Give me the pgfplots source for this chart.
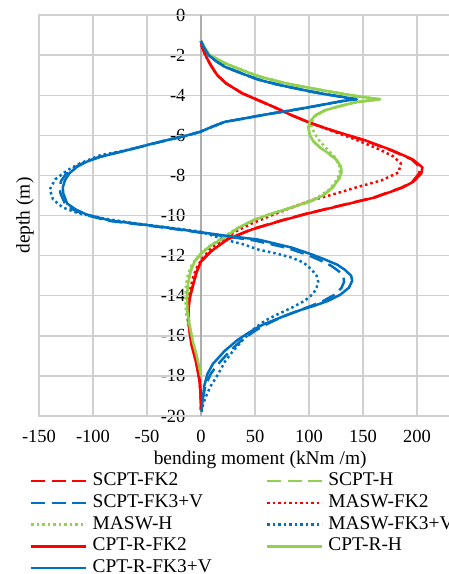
\documentclass[border=0pt]{standalone}
\usepackage{pgfplots}
\pgfplotsset{compat=1.18}
\usepackage{fontspec}
\setmainfont{Liberation Serif}
\definecolor{cred}{HTML}{FF0000}
\definecolor{cgreen}{HTML}{92D050}
\definecolor{cblue}{HTML}{0070C0}
\definecolor{gridc}{HTML}{D0D0D0}
\definecolor{zeroc}{HTML}{ADADAD}
\tikzset{
  dashedS/.style={dash pattern=on 14bp off 6.5bp},
  dottedS/.style={dash pattern=on 2.5bp off 3bp},
}
\begin{document}
\begin{tikzpicture}
% page frame: the chart is cut at the right edge
\useasboundingbox (0,0) rectangle (449bp,-574bp);
\begin{axis}[
  name=ax, at={(39bp,-15bp)}, anchor=north west,
  scale only axis, width=432bp, height=401bp,
  xmin=-150, xmax=250, ymin=-20, ymax=0,
  xtick={-150,-100,...,200}, ytick={-20,-18,...,0},
  xmajorgrids=true, ymajorgrids=true,
  major grid style={draw=gridc, line width=1.4bp},
  axis line style={draw=gridc, line width=1.4bp},
  tick style={draw=gridc}, major tick length=1bp,
  extra x ticks={0}, extra x tick labels={},
  extra x tick style={major grid style={draw=zeroc, line width=1.5bp}},
  /pgf/number format/assume math mode=true,
  tick label style={font=\fontsize{18.5bp}{20bp}\selectfont},
  xticklabel style={yshift=-11bp},
  yticklabel style={xshift=150bp},
  xlabel={bending moment (kNm /m)},
  xlabel style={at={(axis description cs:0.512,0)}, anchor=center, yshift=-44bp,
    font=\fontsize{19.4bp}{21bp}\selectfont},
  ylabel={depth (m)},
  ylabel style={at={(axis description cs:0,0.5)}, anchor=center, yshift=14bp,
    font=\fontsize{19.4bp}{21bp}\selectfont},
  every axis plot/.append style={line width=2.5bp, line join=round},
  legend columns=2, legend cell align=left,
  legend image code/.code={\draw[#1] (0bp,0bp) -- (55bp,0bp);},
  legend style={at={(axis description cs:-0.0208,-0.138)}, anchor=north west,
    draw=none, fill=none, inner sep=0pt,
    font=\fontsize{19.4bp}{21bp}\selectfont,
    column sep=4bp, /tikz/every even column/.append style={column sep=53bp},
    row sep=2.8bp, nodes={inner sep=1bp, text height=13bp, text depth=4bp}},
]
% grid lines
\pgfplotsinvokeforeach{-150,-100,-50,50,100,150,200}{
  \draw[gridc, line width=1.4bp] (axis cs:#1,-20) -- (axis cs:#1,0);}
\pgfplotsinvokeforeach{-20,-18,...,0}{
  \draw[gridc, line width=1.4bp] (axis cs:-150,#1) -- (axis cs:250,#1);}
\draw[zeroc, line width=1.5bp] (axis cs:0,-20) -- (axis cs:0,0);
% SCPT-FK2
\addplot[cred, dashedS] coordinates {
(0,-1.3) (1,-1.6) (4,-2.0) (9,-2.5) (15,-3.0) (23,-3.4) (38,-3.9) (53,-4.25)
(68,-4.6) (84,-5.0) (102,-5.4) (124,-5.8) (151,-6.25) (176,-6.75) (195,-7.2)
(203,-7.6) (202,-7.9) (196,-8.3) (186,-8.6) (160,-9.1) (129,-9.5) (98,-9.9)
(74,-10.25) (46,-10.7) (24,-11.2) (9,-11.8) (0,-12.3) (-4,-12.8) (-7,-13.4)
(-10,-14.0) (-11.5,-14.6) (-11.7,-15.2) (-10.5,-15.8) (-9,-16.4) (-6,-17.0)
(-3.5,-17.6) (-1.5,-18.2) (-0.5,-18.8) (0,-19.7)};
\addlegendentry{SCPT-FK2}
% SCPT-H
\addplot[cgreen, dashedS] coordinates {
(0,-1.3) (3,-1.6) (8,-2.0) (22,-2.4) (38,-2.75) (53,-3.05) (68,-3.27) (84,-3.47)
(100,-3.63) (115,-3.78) (130,-3.92) (145,-4.05) (158,-4.15) (165,-4.2)
(158,-4.26) (145,-4.33) (128,-4.55) (115,-4.75) (106,-5.0) (101,-5.3)
(99.5,-5.6) (100.5,-5.95) (104,-6.3) (110,-6.6) (118,-6.9) (125,-7.2)
(129.5,-7.55) (130,-7.85) (128,-8.15) (122,-8.6) (113,-9.0) (101,-9.3)
(84,-9.6) (66,-9.9) (50,-10.2) (35,-10.6) (22,-11.1) (9,-11.5) (0,-11.9)
(-6,-12.3) (-9.5,-12.75) (-12,-13.4) (-13,-14.1) (-12.5,-14.8) (-10.5,-15.5)
(-7.5,-16.3) (-4,-17.0) (-1.5,-17.6) (0,-18.0)};
\addlegendentry{SCPT-H}
% SCPT-FK3+V
\addplot[cblue, dashedS] coordinates {
(0,-1.3) (2.5,-1.6) (7,-2.0) (14,-2.3) (22,-2.58) (38,-2.92) (53,-3.22)
(68,-3.43) (84,-3.62) (100,-3.8) (115,-3.95) (130,-4.08) (144,-4.2) (130,-4.3)
(115,-4.45) (100,-4.6) (84,-4.75) (68,-4.89) (53,-5.03) (38,-5.18) (22,-5.33)
(10,-5.58) (-1,-5.83) (-16,-6.05) (-32,-6.25) (-48,-6.46) (-63,-6.67)
(-78,-6.87) (-94,-7.08) (-107,-7.32) (-117,-7.6) (-125,-7.93) (-129.5,-8.27)
(-131,-8.6) (-130,-8.92) (-126,-9.4) (-118,-9.72) (-107,-9.97) (-85,-10.27)
(-58,-10.44) (-32,-10.62) (-5,-10.82) (22,-11.03) (50,-11.25) (80,-11.62)
(99,-11.97) (111,-12.25) (121,-12.52) (128,-12.8) (132,-13.1) (132.5,-13.3)
(130,-13.62) (123,-13.97) (113,-14.27) (101,-14.53) (90,-14.75) (78,-15.0)
(67,-15.26) (58,-15.5) (50,-15.75) (38,-16.2) (27,-16.75) (16,-17.4)
(9,-17.9) (4,-18.5) (1.5,-19.2) (0,-19.7)};
\addlegendentry{SCPT-FK3+V}
% MASW-FK2
\addplot[cred, dottedS] coordinates {
(0,-1.3) (1,-1.6) (4,-2.0) (9,-2.5) (15,-3.0) (23,-3.4) (38,-3.9) (53,-4.25)
(68,-4.6) (84,-5.0) (102,-5.4) (122,-5.8) (145,-6.25) (165,-6.7) (178,-7.05)
(185,-7.4) (183,-7.85) (167,-8.25) (145,-8.58) (124,-8.92) (102,-9.25)
(84,-9.6) (65,-10.0) (47,-10.4) (32,-10.8) (20,-11.2) (9,-11.65) (2,-12.1)
(-3,-12.5) (-7,-13.0) (-10,-13.7) (-11.5,-14.4) (-11.5,-15.1) (-10,-15.8)
(-7.5,-16.5) (-4.5,-17.2) (-2,-17.9) (-0.5,-18.6) (0,-19.4)};
\addlegendentry{MASW-FK2}
% MASW-H
\addplot[cgreen, dottedS] coordinates {
(0,-1.3) (3,-1.6) (8,-2.0) (22,-2.4) (53,-3.05) (84,-3.47) (115,-3.78)
(145,-4.05) (165,-4.2) (145,-4.33) (115,-4.75) (104,-5.1) (102,-5.5)
(105,-5.9) (110,-6.3) (117,-6.7) (124,-7.1) (128,-7.5) (128.5,-7.85)
(126,-8.2) (119,-8.7) (108,-9.1) (94,-9.4) (78,-9.7) (60,-10.0) (44,-10.35)
(30,-10.75) (17,-11.2) (6,-11.6) (-2,-12.0) (-8,-12.4) (-12,-12.9)
(-14,-13.5) (-14.5,-14.1) (-14,-14.8) (-12,-15.5) (-8.5,-16.3) (-4.5,-17.0)
(-1.5,-17.6) (0,-18.0)};
\addlegendentry{MASW-H}
% MASW-FK3+V
\addplot[cblue, dottedS] coordinates {
(0,-1.3) (2.5,-1.6) (7,-2.0) (14,-2.3) (22,-2.58) (38,-2.92) (53,-3.22)
(68,-3.43) (84,-3.62) (100,-3.8) (115,-3.95) (130,-4.08) (144,-4.2) (130,-4.3)
(115,-4.45) (100,-4.6) (84,-4.75) (68,-4.89) (53,-5.03) (38,-5.18) (22,-5.33)
(10,-5.58) (-1,-5.83) (-16,-6.05) (-32,-6.25) (-48,-6.46) (-63,-6.67)
(-93.5,-7.0) (-112,-7.4) (-124,-7.75) (-135,-8.2) (-140,-8.7) (-137,-9.2)
(-128,-9.6) (-113,-9.9) (-90,-10.15) (-60,-10.4) (-30,-10.6) (-1,-10.8)
(22,-11.2) (40,-11.45) (53,-11.7) (70,-11.9) (84,-12.1) (95,-12.35)
(102.5,-12.7) (107,-13.0) (108.5,-13.3) (107,-13.6) (104,-13.9) (96,-14.25)
(84,-14.6) (72,-14.9) (59,-15.25) (48,-15.7) (38,-16.25) (29,-16.8)
(22,-17.3) (16,-17.9) (9,-18.5) (4,-19.1) (1,-19.6)};
\addlegendentry{MASW-FK3+V}
% CPT-R-FK2
\addplot[cred] coordinates {
(0,-1.3) (1,-1.6) (4,-2.0) (9,-2.5) (15,-3.0) (23,-3.4) (38,-3.9) (53,-4.25)
(68,-4.6) (84,-5.0) (102,-5.4) (124,-5.8) (152,-6.25) (177,-6.75) (196,-7.2)
(205,-7.6) (204,-7.9) (197,-8.3) (187,-8.6) (161,-9.1) (130,-9.5) (99,-9.9)
(75,-10.25) (47,-10.7) (24,-11.2) (9,-11.8) (0,-12.3) (-4,-12.8) (-7,-13.4)
(-10,-14.0) (-11.5,-14.6) (-11.7,-15.2) (-10.5,-15.8) (-9,-16.4) (-6,-17.0)
(-3.5,-17.6) (-1.5,-18.2) (-0.5,-18.8) (0,-19.7)};
\addlegendentry{CPT-R-FK2}
% CPT-R-H
\addplot[cgreen] coordinates {
(0,-1.3) (3,-1.6) (8,-2.0) (22,-2.4) (38,-2.75) (53,-3.05) (68,-3.27) (84,-3.47)
(100,-3.63) (115,-3.78) (130,-3.92) (145,-4.05) (158,-4.15) (166,-4.2)
(158,-4.26) (145,-4.33) (128,-4.55) (115,-4.75) (106,-5.0) (101,-5.3)
(99.5,-5.6) (100.5,-5.95) (104,-6.3) (110,-6.6) (118,-6.9) (125,-7.2)
(129.5,-7.55) (130,-7.85) (128,-8.15) (122,-8.6) (113,-9.0) (101,-9.3)
(84,-9.6) (66,-9.9) (50,-10.2) (35,-10.6) (22,-11.1) (9,-11.5) (0,-11.9)
(-6,-12.3) (-9.5,-12.75) (-12,-13.4) (-13,-14.1) (-12.5,-14.8) (-10.5,-15.5)
(-7.5,-16.3) (-4,-17.0) (-1.5,-17.6) (0,-18.0)};
\addlegendentry{CPT-R-H}
% CPT-R-FK3+V
\addplot[cblue] coordinates {
(0,-1.3) (2.5,-1.6) (7,-2.0) (14,-2.3) (22,-2.58) (38,-2.92) (53,-3.22)
(68,-3.43) (84,-3.62) (100,-3.8) (115,-3.95) (130,-4.08) (144,-4.2) (130,-4.3)
(115,-4.45) (100,-4.6) (84,-4.75) (68,-4.89) (53,-5.03) (38,-5.18) (22,-5.33)
(10,-5.58) (-1,-5.83) (-16,-6.05) (-32,-6.25) (-48,-6.46) (-63,-6.67)
(-78,-6.87) (-93.5,-7.08) (-106,-7.32) (-115,-7.58) (-122,-7.9) (-126,-8.25)
(-128,-8.6) (-127.5,-8.9) (-124,-9.4) (-116,-9.7) (-106,-9.95) (-84,-10.25)
(-58,-10.42) (-32,-10.6) (-5,-10.8) (22,-11.0) (53,-11.2) (84,-11.6)
(103,-11.95) (115,-12.2) (126,-12.45) (133,-12.7) (139,-13.0) (140,-13.25)
(137,-13.6) (129,-13.95) (118,-14.25) (105,-14.5) (93,-14.7) (80,-14.95)
(68.5,-15.2) (57,-15.45) (47,-15.75) (34,-16.2) (22,-16.75) (11,-17.4)
(6,-17.9) (3,-18.5) (1.5,-19.2) (0.5,-19.8)};
\addlegendentry{CPT-R-FK3+V}
\end{axis}
\end{tikzpicture}
\end{document}
